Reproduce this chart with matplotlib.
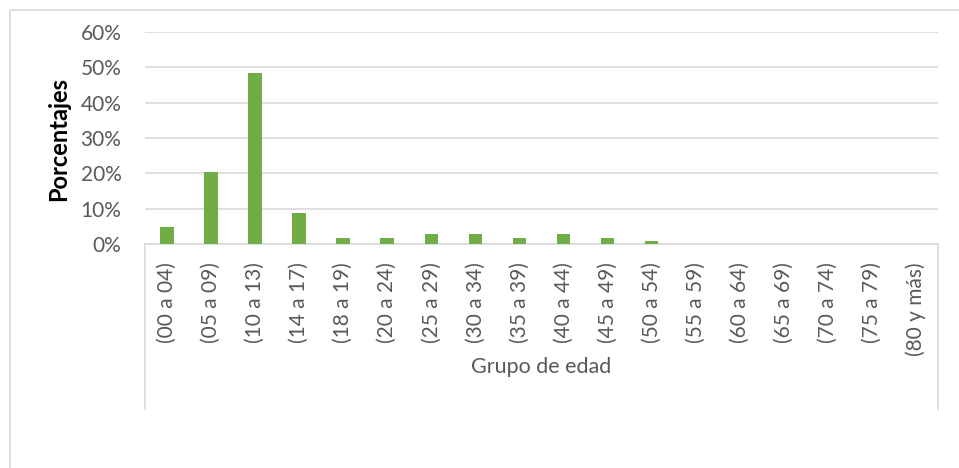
import matplotlib.pyplot as plt
from matplotlib.lines import Line2D
from matplotlib.patches import Rectangle
from matplotlib.ticker import PercentFormatter

# age groups and share of cases (%)
grupos = ["(00 a 04)", "(05 a 09)", "(10 a 13)", "(14 a 17)", "(18 a 19)",
          "(20 a 24)", "(25 a 29)", "(30 a 34)", "(35 a 39)", "(40 a 44)",
          "(45 a 49)", "(50 a 54)", "(55 a 59)", "(60 a 64)", "(65 a 69)",
          "(70 a 74)", "(75 a 79)", "(80 y más)"]
porcentajes = [4.9, 20.3, 48.5, 8.9, 1.8, 1.8, 2.9, 2.9, 1.8, 2.9,
               1.8, 0.8, 0, 0, 0, 0, 0, 0]
y_ticks = [0, 10, 20, 30, 40, 50, 60]

W, H = 959, 468
GREEN = '#70AD47'
TEXT = '#595959'
GRID = '#D9D9D9'

plt.rcParams['font.family'] = ['Lato', 'DejaVu Sans']

fig = plt.figure(figsize=(W / 100, H / 100), dpi=100)

# outer chart border (partially cut at right / bottom)
fig.add_artist(Rectangle((10 / W, -0.05), 1.2, 1 - 10 / H + 0.05,
                         transform=fig.transFigure, fill=False,
                         edgecolor=GRID, lw=1.2))

left, right = 145 / W, 938 / W
bottom, top = 1 - 244 / H, 1 - 32 / H
ax = fig.add_axes([left, bottom, right - left, top - bottom])

x = range(len(grupos))
ax.bar(x, porcentajes, width=0.31, color=GREEN, zorder=3)

ax.set_xlim(-0.5, len(grupos) - 0.5)
ax.set_ylim(0, 60)
ax.set_yticks(y_ticks)
ax.yaxis.set_major_formatter(PercentFormatter(decimals=0))
ax.yaxis.grid(True, color=GRID, lw=1.2)
ax.set_axisbelow(True)

for s in ['left', 'right', 'top']:
    ax.spines[s].set_visible(False)
ax.spines['bottom'].set_color(GRID)
ax.spines['bottom'].set_linewidth(1.2)

ax.set_xticks(list(x))
ax.set_xticklabels(grupos, rotation=90, fontsize=15, color=TEXT)
ax.tick_params(axis='x', length=0, pad=13)
ax.tick_params(axis='y', length=0, pad=17, labelsize=15, labelcolor=TEXT)

# category axis box lines
for xe in (left, right):
    fig.add_artist(Line2D([xe, xe], [bottom, 1 - 409 / H],
                          transform=fig.transFigure, color=GRID, lw=1.2))

fig.text(59 / W, 1 - 139 / H, 'Porcentajes', rotation=90, ha='center',
         va='center', fontsize=17, fontweight='bold', color='black')
fig.text(541 / W, 1 - 367 / H, 'Grupo de edad', ha='center', va='center',
         fontsize=15.5, color=TEXT)

fig.savefig('out.png', dpi=100)
